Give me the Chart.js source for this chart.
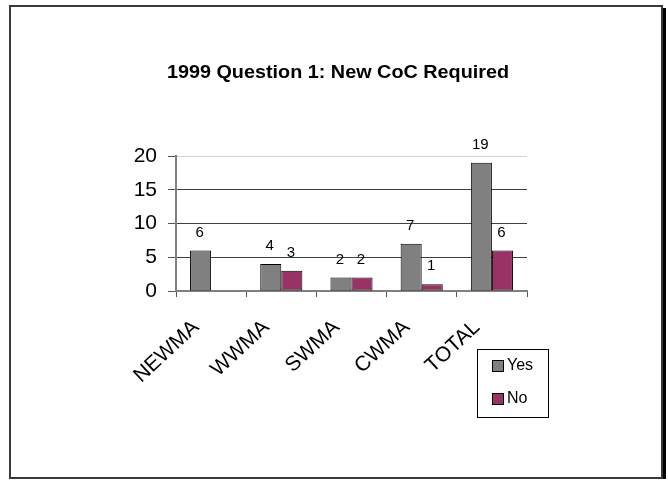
<!DOCTYPE html>
<html>
<head>
<meta charset="utf-8">
<title>1999 Question 1: New CoC Required</title>
<script src="https://cdn.jsdelivr.net/npm/chart.js@4/dist/chart.umd.min.js"></script>
<style>
  html, body { margin: 0; padding: 0; background: #ffffff; }
  #wrap { width: 668px; height: 480px; }
</style>
</head>
<body>
<div id="wrap"><canvas id="chart" width="668" height="480"></canvas></div>
<script>
// Survey answers per management area
const categories = ['NEWMA', 'WWMA', 'SWMA', 'CWMA', 'TOTAL'];
const yesValues = [6, 4, 2, 7, 19];
const noValues = [null, 3, 2, 1, 6];
const seriesNames = ['Yes', 'No'];
const yTicks = [0, 5, 10, 15, 20];
const chartTitle = '1999 Question 1: New CoC Required';

const FONT = "'Liberation Sans', Arial, Helvetica, sans-serif";

// Sheet frame with its dark drop shadow on the right
const framePlugin = {
  id: 'frame',
  beforeDraw(chart) {
    const ctx = chart.ctx;
    ctx.save();
    ctx.fillStyle = '#ffffff';
    ctx.fillRect(0, 0, chart.width, chart.height);
    ctx.fillStyle = '#000000';
    ctx.fillRect(662, 8, 4, 471);
    ctx.strokeStyle = '#3a3a3a';
    ctx.lineWidth = 2;
    ctx.strokeRect(10, 6, 652, 472);
    ctx.restore();
  }
};

// Bold heading above the plot, set slightly wide
const titlePlugin = {
  id: 'sheetTitle',
  afterDraw(chart) {
    const ctx = chart.ctx;
    ctx.save();
    ctx.translate(338, 73);
    ctx.scale(1.1, 1);
    ctx.font = 'bold 18px ' + FONT;
    ctx.fillStyle = '#000000';
    ctx.textAlign = 'center';
    ctx.textBaseline = 'middle';
    ctx.fillText(chartTitle, 0, 0);
    ctx.restore();
  }
};

// Value written above each bar
const valueLabelPlugin = {
  id: 'valueLabels',
  afterDatasetsDraw(chart) {
    const ctx = chart.ctx;
    ctx.save();
    ctx.font = '15px ' + FONT;
    ctx.fillStyle = '#000000';
    ctx.textAlign = 'center';
    ctx.textBaseline = 'middle';
    chart.data.datasets.forEach((ds, di) => {
      const meta = chart.getDatasetMeta(di);
      meta.data.forEach((bar, i) => {
        const v = ds.data[i];
        if (v === null || v === undefined) return;
        ctx.fillText(String(v), bar.x - 1, bar.y - 18);
      });
    });
    ctx.restore();
  }
};

// Boxed legend at the lower right
const boxLegendPlugin = {
  id: 'boxLegend',
  afterDraw(chart) {
    const ctx = chart.ctx;
    const x0 = 477, y0 = 349, w = 71, h = 68;
    ctx.save();
    ctx.fillStyle = '#ffffff';
    ctx.fillRect(x0, y0, w, h);
    ctx.strokeStyle = '#000000';
    ctx.lineWidth = 1;
    ctx.strokeRect(x0 + 0.5, y0 + 0.5, w, h);
    ctx.font = '16px ' + FONT;
    ctx.textBaseline = 'middle';
    ctx.textAlign = 'left';
    chart.data.datasets.forEach((ds, i) => {
      const cy = y0 + 17 + i * 33;
      ctx.fillStyle = ds.backgroundColor;
      ctx.fillRect(492.5, cy - 5.5, 11, 11);
      ctx.strokeStyle = '#000000';
      ctx.strokeRect(492.5, cy - 5.5, 11, 11);
      ctx.fillStyle = '#000000';
      ctx.fillText(ds.label, 507, cy);
    });
    ctx.restore();
  }
};

new Chart(document.getElementById('chart'), {
  type: 'bar',
  data: {
    labels: categories,
    datasets: [
      {
        label: seriesNames[0],
        data: yesValues,
        backgroundColor: '#808080',
        borderColor: '#000000',
        borderWidth: 1,
        borderSkipped: false
      },
      {
        label: seriesNames[1],
        data: noValues,
        backgroundColor: '#993366',
        borderColor: '#000000',
        borderWidth: 1,
        borderSkipped: false
      }
    ]
  },
  options: {
    responsive: false,
    animation: false,
    devicePixelRatio: 1,
    layout: { padding: { top: 156, right: 141, bottom: 0, left: 0 } },
    datasets: {
      bar: { categoryPercentage: 0.6, barPercentage: 1.0 }
    },
    plugins: {
      legend: { display: false },
      title: { display: false },
      tooltip: { enabled: false }
    },
    scales: {
      x: {
        offset: true,
        grid: {
          offset: true,
          drawOnChartArea: false,
          drawTicks: true,
          tickLength: 6,
          tickColor: '#555555'
        },
        border: { display: true, color: '#808080', width: 2 },
        ticks: {
          minRotation: 43,
          maxRotation: 43,
          autoSkip: false,
          padding: 18,
          labelOffset: -15,
          color: '#000000',
          font: { family: FONT, size: 21 }
        },
        afterFit(scale) { scale.height = 189; }
      },
      y: {
        min: 0,
        max: 20,
        afterBuildTicks(scale) {
          scale.ticks = yTicks.map(v => ({ value: v }));
        },
        grid: {
          color(ctx) {
            const v = ctx.tick ? ctx.tick.value : 0;
            if (v === 20) return '#d0d0d0';
            return '#404040';
          },
          tickColor: '#555555',
          tickLength: 8,
          lineWidth: 1
        },
        border: { display: true, color: '#808080', width: 2 },
        ticks: {
          padding: 11,
          color: '#000000',
          font: { family: FONT, size: 21 }
        },
        afterFit(scale) { scale.width = 176; }
      }
    }
  },
  plugins: [framePlugin, valueLabelPlugin, titlePlugin, boxLegendPlugin]
});
</script>
</body>
</html>
